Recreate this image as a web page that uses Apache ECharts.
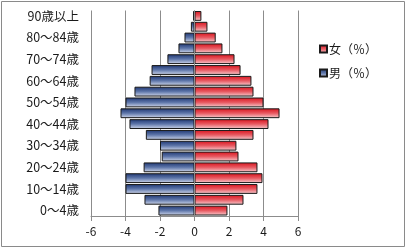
<!DOCTYPE html>
<html>
<head>
<meta charset="utf-8">
<script src="https://cdn.jsdelivr.net/npm/echarts@6/dist/echarts.min.js"></script>
<style>
html,body{margin:0;padding:0;background:#fff;}
#c{width:407px;height:249px;}
</style>
</head>
<body>
<div id="c"></div>
<script>
const categories = ['0～4歳','5～9歳','10～14歳','15～19歳','20～24歳','25～29歳','30～34歳','35～39歳','40～44歳','45～49歳','50～54歳','55～59歳','60～64歳','65～69歳','70～74歳','75～79歳','80～84歳','85～89歳','90歳以上'];
const female = [1.91,2.84,3.65,3.94,3.65,2.55,2.43,3.42,4.29,4.93,4.0,3.42,3.30,2.67,2.32,1.62,1.23,0.75,0.4];
const male = [-2.09,-2.9,-4.0,-4.0,-2.95,-1.9,-2.0,-2.82,-3.77,-4.29,-4.0,-3.48,-2.6,-2.49,-1.57,-0.93,-0.58,-0.21,-0.08];
const xTicks = {min:-6, max:6, interval:2};
const seriesNames = ['女（％）','男（％）'];

const font = '"Noto Sans CJK JP", sans-serif';
const redGrad = new echarts.graphic.LinearGradient(0,0,0,1,[
  {offset:0,color:'#d8121c'},{offset:0.5,color:'#e85a62'},{offset:1,color:'#f7d0d3'}]);
const blueGrad = new echarts.graphic.LinearGradient(0,0,0,1,[
  {offset:0,color:'#1c3470'},{offset:0.5,color:'#5f77aa'},{offset:1,color:'#d4dbee'}]);

const chart = echarts.init(document.getElementById('c'), null, {renderer:'canvas'});
chart.setOption({
  animation:false,
  backgroundColor:'#fff',
  textStyle:{fontFamily:font},
  graphic:[{type:'rect',shape:{x:1.5,y:1.5,width:403,height:245},style:{fill:'none',stroke:'#8a8a8a',lineWidth:1},silent:true,z:-1}],
  grid:{left:91,right:109,top:10.5,bottom:33},
  legend:{
    orient:'vertical', left:314, top:38, itemGap:12,
    itemWidth:7, itemHeight:7, icon:'rect',
    textStyle:{fontSize:12,color:'#1a1a1a',fontFamily:font, padding:[0,0,0,-3]},
    data:seriesNames
  },
  xAxis:{
    type:'value', min:xTicks.min, max:xTicks.max, interval:xTicks.interval,
    axisLine:{show:true,onZero:false,lineStyle:{color:'#8c8c8c'}},
    axisTick:{show:true,length:5,lineStyle:{color:'#8c8c8c'}},
    axisLabel:{fontSize:12,color:'#1a1a1a',margin:9,fontFamily:font},
    splitLine:{show:true,lineStyle:{color:'#8c8c8c',width:1}}
  },
  yAxis:{
    type:'category', data:categories,
    axisLine:{show:false}, axisTick:{show:false},
    axisLabel:{interval:1,fontSize:12.5,color:'#1a1a1a',margin:12,fontFamily:font},
    splitLine:{show:false}
  },
  series:[
    {name:seriesNames[0], type:'bar', data:female, barGap:'-100%', barCategoryGap:'9%',
     itemStyle:{color:redGrad,borderColor:'#1a1a1a',borderWidth:1},
     markLine:{silent:true,symbol:'none',label:{show:false},lineStyle:{color:'#8c8c8c',type:'solid',width:1},data:[{xAxis:0}]}},
    {name:seriesNames[1], type:'bar', data:male, barGap:'-100%', barCategoryGap:'9%',
     itemStyle:{color:blueGrad,borderColor:'#1a1a1a',borderWidth:1}}
  ]
});
</script>
</body>
</html>
